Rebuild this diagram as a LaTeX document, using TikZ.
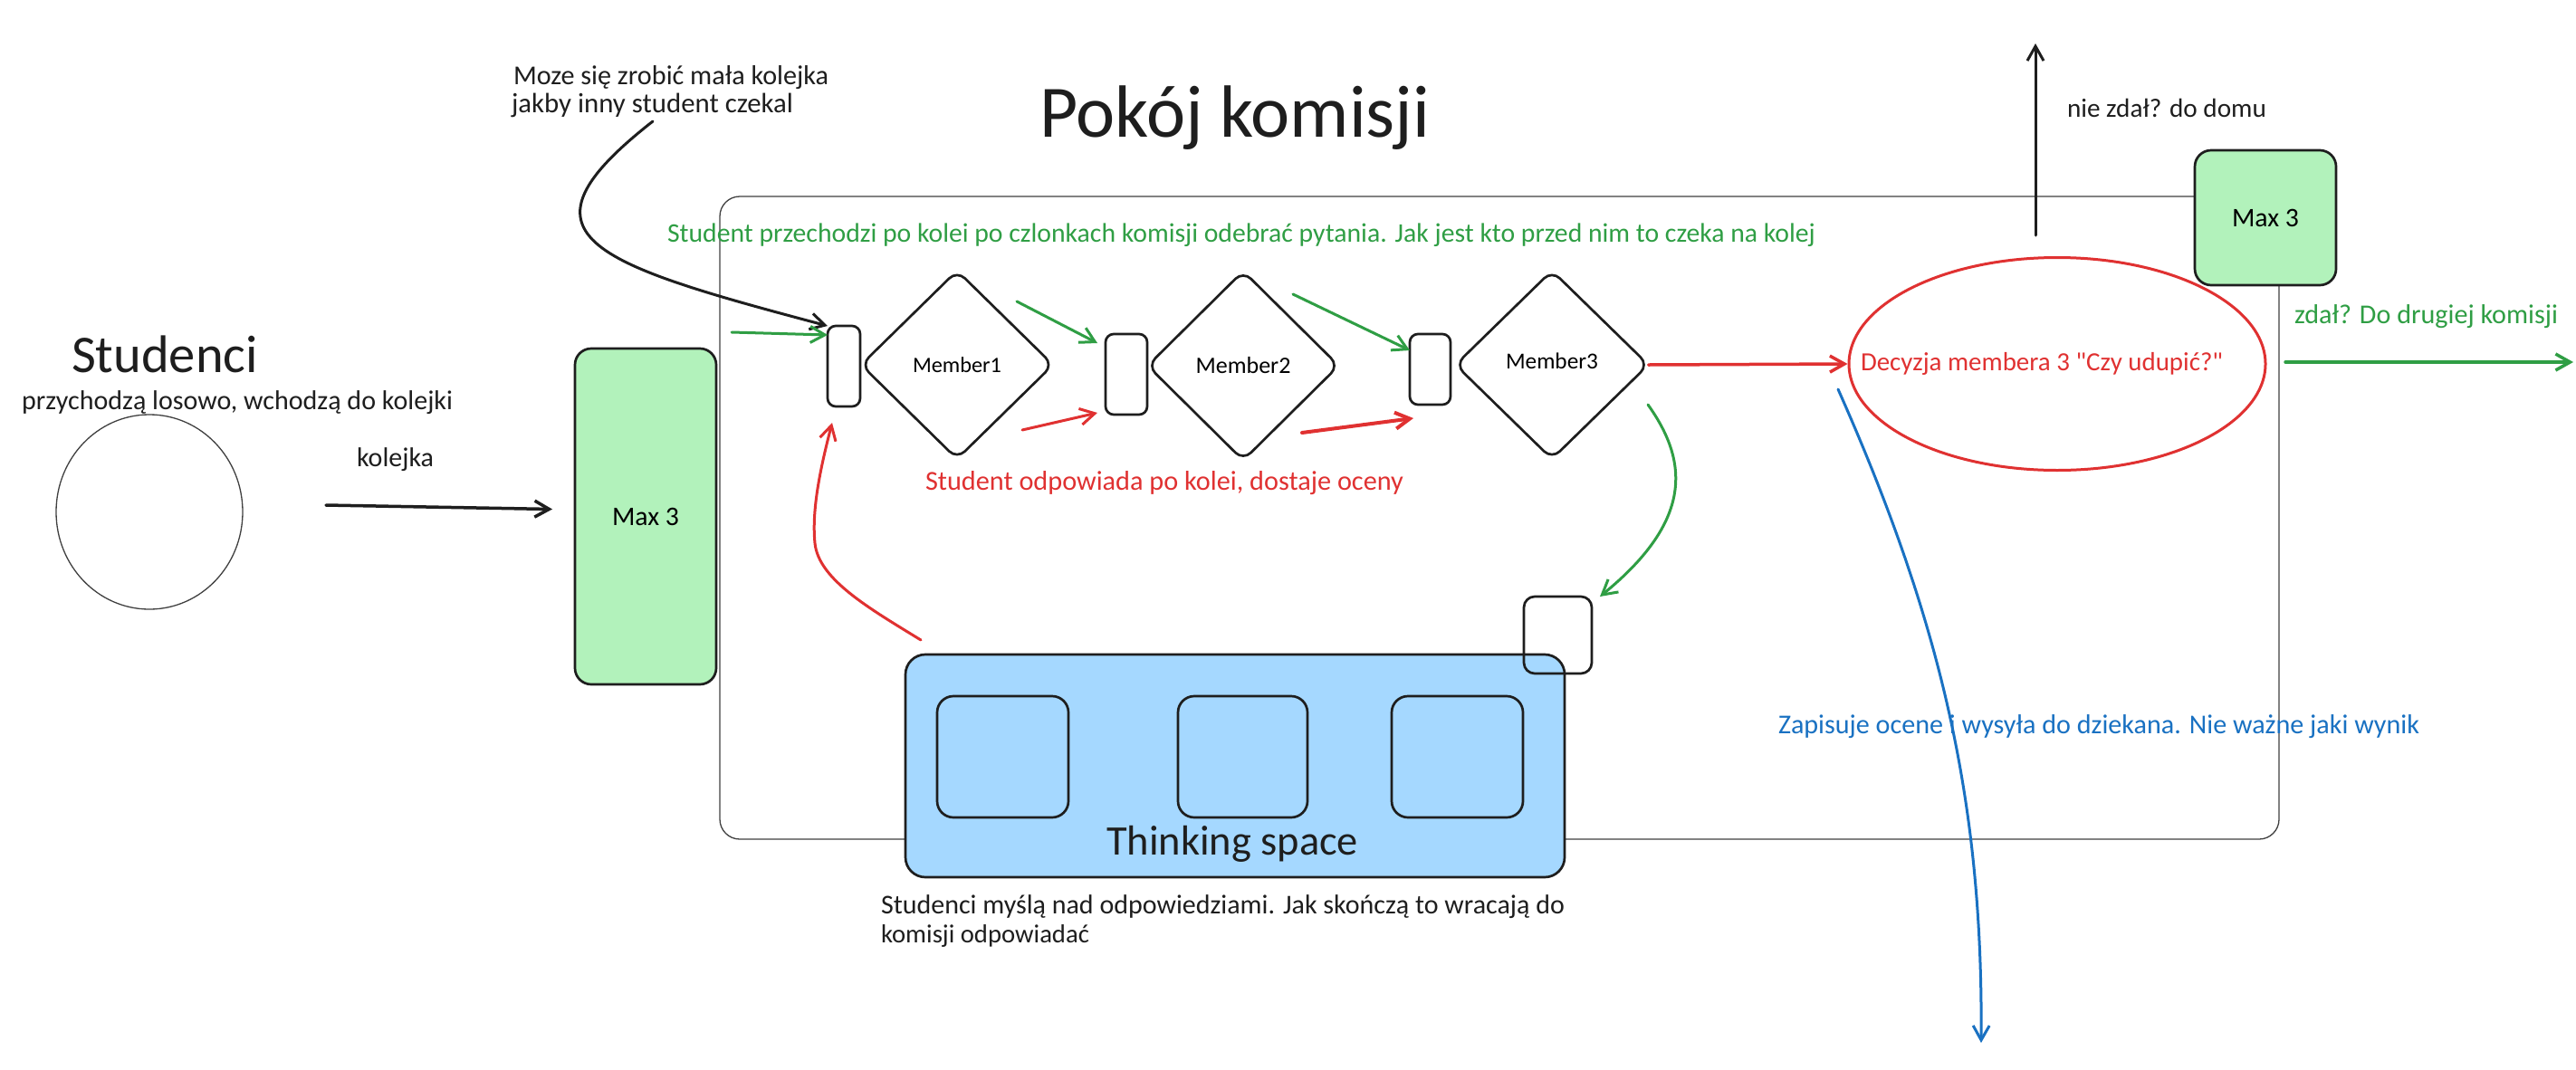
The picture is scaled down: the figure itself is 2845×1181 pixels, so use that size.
\documentclass[tikz,border=0pt]{standalone}
\usepackage{fontspec}
\setmainfont{Carlito}[Ligatures=TeXOff]
\usepackage{graphicx}
\usetikzlibrary{shapes.geometric,arrows.meta}
\definecolor{exgreen}{HTML}{2F9E44}
\definecolor{exred}{HTML}{E03131}
\definecolor{exblue}{HTML}{1971C2}
\definecolor{fillgreen}{HTML}{B2F2BB}
\definecolor{fillblue}{HTML}{A5D8FF}
\definecolor{ink}{HTML}{1E1E1E}
\newcommand{\fw}[2]{\resizebox{#1pt}{!}{#2}}
\tikzset{
  shp/.style={draw=ink, line width=2.7pt, inner sep=0pt, outer sep=0pt, rounded corners=#1},
  shp/.default=18pt,
  roomframe/.style={draw=black!75, line width=1.3pt, inner sep=0pt, outer sep=0pt, rounded corners=22pt},
  thin/.style={draw=black!75, line width=1.3pt, inner sep=0pt, outer sep=0pt},
  txt/.style={inner sep=0pt, outer sep=0pt, anchor=base west, text=ink},
  arr/.style={-{Straight Barb[length=16pt,width=18pt]}, line width=3pt, line cap=round, line join=round},
}
\begin{document}
\begin{tikzpicture}[x=1pt,y=-1pt]
\useasboundingbox (0,0) rectangle (2845,1181);
\fill[white] (0,0) rectangle (2845,1181);

% room frame
\node[roomframe, minimum width=1722pt, minimum height=710pt] (room) at (1656,572) {};

% students
\node[thin, ellipse, minimum width=206pt, minimum height=215pt] (stud) at (165,565.5) {};
\node[txt] (tStud) at (79,411) {\fw{206}{Studenci}};
\node[txt] (tPrzy) at (24,452) {\fw{476}{przychodzą losowo, wchodzą do kolejki}};
\node[txt] (tKol) at (394,515) {\fw{85}{kolejka}};

% queue box
\node[shp, fill=fillgreen, minimum width=156pt, minimum height=371pt] (q1) at (713,570.5) {\fw{74}{Max 3}};

% title and notes
\node[txt] (tTitle) at (1148,151) {\fw{431}{Pokój komisji}};
\node[txt] (tMoze1) at (567,93) {\fw{348}{Moze się zrobić mała kolejka}};
\node[txt] (tMoze2) at (565,124) {\fw{311}{jakby inny student czekal}};
\node[txt, text=exgreen] (tGreen) at (737,267) {\fw{1268}{Student przechodzi po kolei po czlonkach komisji odebrać pytania. Jak jest kto przed nim to czeka na kolej}};
\node[txt, text=exred] (tRed) at (1022,541) {\fw{528}{Student odpowiada po kolei, dostaje oceny}};

% small queue boxes
\node[shp=9pt, minimum width=36pt, minimum height=89pt] (b1) at (932,404.5) {};
\node[shp=9pt, minimum width=46pt, minimum height=89pt] (b2) at (1244,413.5) {};
\node[shp=9pt, minimum width=45pt, minimum height=78pt] (b3) at (1579.5,408) {};

% members
\node[shp=12pt, diamond, minimum width=212pt, minimum height=208pt] (d1) at (1057,403) {\fw{98}{Member1}};
\node[shp=12pt, diamond, minimum width=211pt, minimum height=209pt] (d2) at (1373,404) {\fw{105}{Member2}};
\node[shp=12pt, diamond, minimum width=213pt, minimum height=208pt] (d3) at (1714,403) {\raisebox{8pt}{\fw{102}{Member3}}};

% thinking space
\node[shp=22pt, fill=fillblue, minimum width=728pt, minimum height=246pt] (ts) at (1364,846) {};
\node[shp, minimum width=145pt, minimum height=134pt] (ia) at (1107.5,836) {};
\node[shp, minimum width=143pt, minimum height=134pt] (ib) at (1372.5,836) {};
\node[shp, minimum width=145pt, minimum height=134pt] (ic) at (1609.5,836) {};
\node[txt] (tTs) at (1222,944) {\fw{278}{Thinking space}};
\node[shp=12pt, minimum width=75pt, minimum height=85pt] (b4) at (1720.5,701.5) {};
\node[txt] (tMysl1) at (973,1009) {\fw{755}{Studenci myślą nad odpowiedziami. Jak skończą to wracają do}};
\node[txt] (tMysl2) at (973,1041) {\fw{230}{komisji odpowiadać}};

% decision
\node[draw=exred, line width=3pt, ellipse, inner sep=0pt, minimum width=460pt, minimum height=235pt] (dec) at (2272,402) {};
\node[txt, text=exred] (tDec) at (2055,409) {\fw{400}{Decyzja membera 3 "Czy udupić?"}};
\node[shp, fill=fillgreen, minimum width=156pt, minimum height=149pt] (q2) at (2502,240.5) {\fw{74}{Max 3}};
\node[txt] (tNie) at (2283,129) {\fw{220}{nie zdał? do domu}};
\node[txt, text=exgreen] (tZdal) at (2534,357) {\fw{291}{zdał? Do drugiej komisji}};
\node[txt, text=exblue] (tBlue) at (1964,810) {\fw{708}{Zapisuje ocene i wysyła do dziekana. Nie ważne jaki wynik}};

% free ends
\coordinate (cs) at (721,134);
\coordinate (ka) at (360,558);
\coordinate (g1s) at (808,367);
\coordinate (g2s) at (1123,333);
\coordinate (g3s) at (1428,325);
\coordinate (r1s) at (1129,475);
\coordinate (r2s) at (1438,478);
\coordinate (g5s) at (1820,447);
\coordinate (r3s) at (1017,707);
\coordinate (up) at (2248,48);
\coordinate (gos) at (2524,400);
\coordinate (goe) at (2842,400);
\coordinate (bs) at (2030,430);
\coordinate (be) at (2188,1152);

% connectors
\draw[arr, ink, line width=3.5pt] (ka) -- ([xshift=-25pt,yshift=8pt]q1.west);
\draw[arr, ink] (cs) .. controls (560,260) and (650,290) .. (b1.north west);
\draw[arr, exgreen] (g1s) -- ([yshift=-10pt]b1.north west);
\draw[arr, exgreen] (g2s) -- ([xshift=-9pt,yshift=-10pt]b2.north west);
\draw[arr, exgreen] (g3s) -- ([yshift=-18pt]b3.north west);
\draw[arr, exred] (r1s) -- ([xshift=-9pt,yshift=2pt]b2.south west);
\draw[arr, exred, line width=4pt] (r2s) -- ([xshift=4pt,yshift=-15pt]b3.south west);
\draw[arr, exred, line width=3.5pt] (d3.east) -- (dec.west);
\draw[arr, exgreen] (g5s) .. controls (1865,510) and (1870,575) .. ([xshift=9pt]b4.north east);
\draw[arr, exred] (r3s) .. controls (960,672) and (904,640) .. (900,600) .. controls (896,560) and (908,510) .. ([xshift=5pt,yshift=-18pt]b1.south west);
\draw[arr, ink] ([xshift=-24pt,yshift=23pt]dec.north) -- (up);
\draw[arr, exgreen, line width=3.5pt] (gos) -- (goe);
\draw[arr, exblue] (bs) .. controls (2150,700) and (2190,900) .. (be);
\end{tikzpicture}
\end{document}
